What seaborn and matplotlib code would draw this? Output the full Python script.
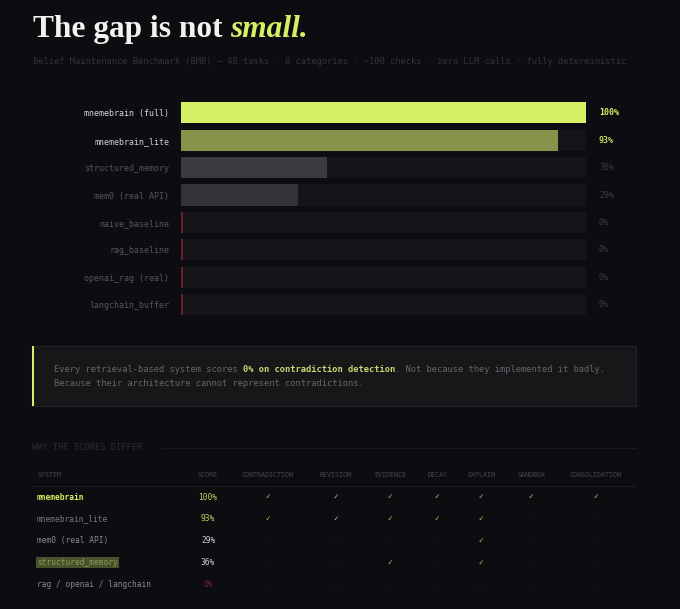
import matplotlib
matplotlib.use("Agg")
import matplotlib.pyplot as plt
from matplotlib.patches import Rectangle
import pandas as pd
import seaborn as sns

# --- data ---
systems = ["mnemebrain (full)", "mnemebrain_lite", "structured_memory", "mem0 (real API)",
           "naive_baseline", "rag_baseline", "openai_rag (real)", "langchain_buffer"]
scores = [100, 93, 36, 29, 0, 0, 0, 0]

table_systems = ["mnemebrain", "mnemebrain_lite", "mem0 (real API)", "structured_memory",
                 "rag / openai / langchain"]
table_scores = [100, 93, 29, 36, 0]
features = ["CONTRADICTION", "REVISION", "EVIDENCE", "DECAY", "EXPLAIN", "SANDBOX", "CONSOLIDATION"]
capabilities = [
    [1, 1, 1, 1, 1, 1, 1],
    [1, 1, 1, 1, 1, 0, 0],
    [0, 0, 0, 0, 1, 0, 0],
    [0, 0, 1, 0, 1, 0, 0],
    [0, 0, 0, 0, 0, 0, 0],
]

# --- style ---
BG = "#0c0c11"
LIME = "#d4f064"
MONO = ["DejaVu Sans Mono", "DejaVu Sans"]
sns.set_theme(style="dark", rc={"axes.facecolor": BG, "figure.facecolor": BG,
                                "figure.edgecolor": BG})
plt.rcParams["font.family"] = MONO

fig = plt.figure(figsize=(6.8, 6.09), dpi=100)
fig.patch.set_edgecolor(BG)

# layout axes in pixel units for text and boxes
lay = fig.add_axes([0, 0, 1, 1], zorder=0)
lay.set_xlim(0, 680)
lay.set_ylim(609, 0)
lay.axis("off")


def chain(x, y, parts, **kw):
    # draw text pieces one after the other on a line
    r = fig.canvas.get_renderer()
    for txt, opts in parts:
        t = lay.text(x, y, txt, **{**kw, **opts})
        bb = t.get_window_extent(renderer=r)
        x = lay.transData.inverted().transform((bb.x1, bb.y0))[0]
    return x


# title
chain(33, 37, [("The gap is not ", dict(color="#f2f2ee", fontweight="bold")),
               ("small.", dict(color=LIME, fontweight="bold", style="italic"))],
      fontsize=22.6, family="Liberation Serif", va="baseline")
lay.text(33, 61, "Belief Maintenance Benchmark (BMB) \u2014 48 tasks \u00b7 8 categories \u00b7 "
         "~100 checks \u00b7 zero LLM calls \u00b7 fully deterministic",
         fontsize=6.3, color="#32323a", va="center")

# --- bar chart ---
ax = fig.add_axes([181 / 680, 1 - 318.2 / 609, 405 / 680, 219 / 609], zorder=2)
ax.set_facecolor("none")
df = pd.DataFrame({"system": systems, "score": scores})
df["track"] = max(scores)
fills = ["#d4f064", "#87924a", "#3b3b3f", "#333337", "#141419", "#141419", "#141419", "#141419"]
sns.barplot(data=df, x="track", y="system", color="#141419", width=0.77, ax=ax, orient="h",
            saturation=1, linewidth=0, edgecolor="none")
sns.barplot(data=df, x="score", y="system", hue="system", palette=dict(zip(systems, fills)),
            legend=False, width=0.77, ax=ax, orient="h", saturation=1, linewidth=0,
            edgecolor="none")
for i, v in enumerate(scores):
    if v == 0:
        ax.vlines(0.2, i - 0.385, i + 0.385, color="#6a2228", lw=1.4, zorder=5)
ax.set_xlim(0, 100)
ax.set_ylim(len(systems) - 0.5, -0.5)
ax.set_xlabel("")
ax.set_ylabel("")
ax.set_xticks([])
ax.tick_params(axis="y", length=0, pad=8.6, labelsize=6)
for s in ax.spines.values():
    s.set_visible(False)
ax.grid(False)
label_cols = ["#d8d8d8", "#d0d0d0"] + ["#55555c"] * 6
for tl, c in zip(ax.get_yticklabels(), label_cols):
    tl.set_color(c)
val_cols = [LIME, "#c2d45e"] + ["#3a3a40"] * 6
for i, v in enumerate(scores):
    ax.text(103.2, i, f"{v}%", color=val_cols[i], fontsize=6, va="center",
            fontweight="bold" if i < 2 else "normal", clip_on=False)

# --- callout ---
lay.add_patch(Rectangle((32, 346), 604, 60, facecolor="#17171a", edgecolor="#232327", lw=0.8))
lay.add_patch(Rectangle((32, 346), 2.2, 60, facecolor=LIME, edgecolor="none"))
grey = "#66666a"
chain(54, 369, [("Every retrieval-based system scores ", dict(color=grey)),
                ("0% on contradiction detection", dict(color="#c6d870", fontweight="bold")),
                (". Not because they implemented it badly.", dict(color=grey))],
      fontsize=6.3, va="center")
lay.text(54, 384, "Because their architecture cannot represent contradictions.",
         fontsize=6.3, color=grey, va="center")

# --- table ---
lay.text(32, 448, "WHY THE SCORES DIFFER", fontsize=6.2, color="#2c2c34", va="center")
lay.plot([162, 636], [448, 448], color="#1a1a20", lw=0.8)
col_x = [268, 336, 390, 437, 481, 531, 596]
head_c = "#46464e"
lay.text(37, 475, "SYSTEM", fontsize=4.8, color=head_c, va="center")
lay.text(208, 475, "SCORE", fontsize=4.8, color=head_c, va="center", ha="center")
for f, x in zip(features, col_x):
    lay.text(x, 475, f, fontsize=4.8, color=head_c, va="center", ha="center")
lay.plot([32, 636], [486, 486], color="#1d1d23", lw=0.8)

row_y0, row_dy = 497, 21.9
name_style = [dict(color=LIME, fontweight="bold"), dict(color="#77777c"),
              dict(color="#88888c"),
              dict(color="#8c9a5c", bbox=dict(boxstyle="square,pad=0.15", fc="#46522a", ec="none")),
              dict(color="#88888c")]
score_cols = ["#c2d45e", "#c2d45e", "#d0d0d0", "#d0d0d0", "#6a2a2c"]
for r, name in enumerate(table_systems):
    y = row_y0 + r * row_dy
    lay.text(37, y, name, fontsize=5.7, va="center", **name_style[r])
    lay.text(208, y, f"{table_scores[r]}%", fontsize=5.7, va="center", ha="center",
             color=score_cols[r])
    for c, x in enumerate(col_x):
        if capabilities[r][c]:
            lay.text(x, y, "\u2713", fontsize=5.5, va="center", ha="center", color="#c8d46a")
        else:
            lay.text(x, y, "\u2014", fontsize=5, va="center", ha="center", color="#1e1e24")

fig.savefig("out.png", dpi=100, facecolor=BG, edgecolor=BG)
